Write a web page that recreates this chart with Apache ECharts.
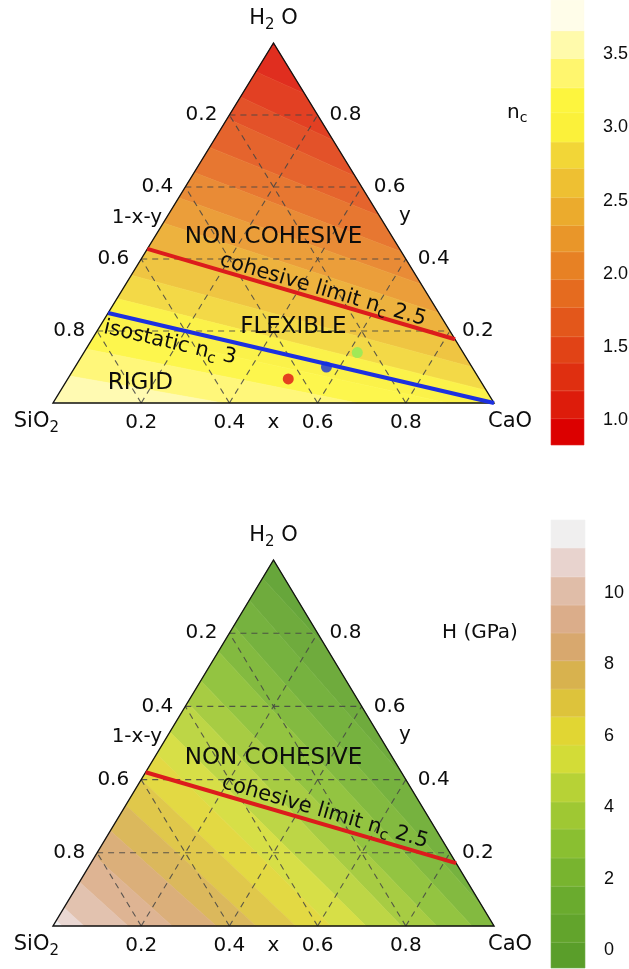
<!DOCTYPE html>
<html>
<head>
<meta charset="utf-8">
<script src="https://cdn.jsdelivr.net/npm/echarts@6/dist/echarts.min.js"></script>
<style>html,body{margin:0;padding:0;background:#fff}#c{width:629px;height:969px}</style>
</head>
<body>
<div id="c"></div>
<script>
// ---------- DATA ----------
// ternary coordinates: x = CaO fraction, y = H2O fraction, 1-x-y = SiO2 fraction
const tickValues = [0.2, 0.4, 0.6, 0.8];
const bottomTickValues = [0.2, 0.4, 0.5, 0.6, 0.8];
const bottomTickLabels = ['0.2', '0.4', 'x', '0.6', '0.8'];
const leftTickLabels = ['0.8', '0.6', '0.4', '0.2'];   // 1-x-y along SiO2-H2O edge at y = 0.2..0.8
const rightTickLabels = ['0.2', '0.4', '0.6', '0.8'];  // y along CaO-H2O edge
const leftAxisName = '1-x-y';
const rightAxisName = 'y';
const cornerNames = ['SiO{s|2}', 'CaO', 'H{s|2} O'];

// n_c field: band boundaries (colour key) and colours
const ncLevels = [0.83, 1.01, 1.20, 1.39, 1.57, 1.77, 1.96, 2.15, 2.33, 2.52, 2.72, 2.90, 3.10, 3.27, 3.47, 3.66, 3.87];
const ncColors = ['#dc0000', '#dd1c0b', '#df2f10', '#e14316', '#e3571b', '#e56b1f', '#e78124', '#e99629',
                  '#ebab2d', '#eec032', '#f2d637', '#fbf13a', '#fdf53e', '#fff66e', '#fffaab', '#fffde9'];
// where each inner level line (ncLevels[1..15]) meets the triangle edges, [x, y]
const ncContourStart = [[0, 0.99], [0, 0.92], [0, 0.85], [0, 0.79], [0, 0.71], [0, 0.64], [0, 0.57], [0, 0.50],
                        [0, 0.43], [0, 0.355], [0, 0.29], [0, 0.21], [0, 0.15], [0, 0.075], [0, 0.005]];
const ncContourEnd = [[0.01, 0.99], [0.14, 0.86], [0.27, 0.73], [0.37, 0.63], [0.48, 0.52], [0.58, 0.42],
                      [0.67, 0.33], [0.75, 0.25], [0.825, 0.175], [0.90, 0.10], [0.965, 0.035], [0.895, 0],
                      [0.69, 0], [0.385, 0], [0.015, 0]];
const ncTicks = [1.0, 1.5, 2.0, 2.5, 3.0, 3.5];

// hardness H (GPa) field
const hLevels = [-0.50, 0.22, 1.01, 1.79, 2.58, 3.39, 4.15, 4.96, 5.74, 6.53, 7.31, 8.10, 8.88, 9.66, 10.45, 11.26, 12.04];
const hColors = ['#5a9e2a', '#62a42c', '#6aab2e', '#78b42f', '#8abf31', '#9fc833', '#b7d236', '#d3dc37',
                 '#e1d633', '#ddc33b', '#d8b24e', '#d8a86e', '#dbad8a', '#e0bda8', '#e8d3ce', '#f0efef'];
const hContourStart = [[0, 0.95], [0, 0.89], [0, 0.82], [0, 0.75], [0, 0.67], [0, 0.61], [0, 0.53], [0, 0.47],
                       [0, 0.40], [0, 0.33], [0, 0.26], [0, 0.19], [0, 0.12], [0, 0.05], [0, 0.015]];
const hContourEnd = [[0.24, 0.76], [0.60, 0.40], [0.95, 0.05], [0.95, 0], [0.87, 0], [0.79, 0], [0.71, 0],
                     [0.63, 0], [0.55, 0], [0.46, 0], [0.37, 0], [0.27, 0], [0.17, 0], [0.07, 0], [0.02, 0]];
const hTicks = [0, 2, 4, 6, 8, 10];

// phase boundaries
const cohesiveLimitTop = [[0, 0.428], [0.823, 0.177]];
const isostaticLine = [[0, 0.25], [1, 0]];
const cohesiveLimitBottom = [[0, 0.42], [0.828, 0.172]];

// sample compositions
const sampleX = [0.50, 0.57, 0.62];
const sampleY = [0.067, 0.10, 0.14];
const sampleColors = ['#dd1414', '#1430dd', '#8cec5a'];

// ---------- RENDERING ----------
const FONT = 'DejaVu Sans';
const KEYFONT = 'Liberation Sans';
const INK = '#0d0d0d';
const tern = (x, y) => [x + y / 2, y];

function wash(hex, t) {
  const n = parseInt(hex.slice(1), 16);
  const r = (n >> 16) & 255, g = (n >> 8) & 255, b = n & 255;
  const m = c => Math.round(c + (255 - c) * t);
  return 'rgb(' + m(r) + ',' + m(g) + ',' + m(b) + ')';
}

function textEl(pt, text, size, align, dx, dy, rot, family) {
  const fam = family || FONT;
  return {
    type: 'text', x: pt[0] + dx, y: pt[1] + dy, rotation: rot || 0,
    style: {
      text: text, fontSize: size, fontFamily: fam, fill: INK, align: align, verticalAlign: 'middle',
      lineHeight: Math.round(size * 1.3),
      rich: { s: { fontSize: Math.round(size * 0.7), fontFamily: fam, fill: INK, verticalAlign: 'bottom' } }
    }
  };
}

function clip(poly, A, B, high) {
  const f = p => (B[0] - A[0]) * (p[1] - A[1]) - (B[1] - A[1]) * (p[0] - A[0]);
  const s = f([0, 0]) >= 0 ? 1 : -1;          // SiO2 corner lies on the high side
  const g = p => (high ? s : -s) * f(p);
  const out = [];
  for (let i = 0; i < poly.length; i++) {
    const P = poly[i], Q = poly[(i + 1) % poly.length];
    const gp = g(P), gq = g(Q);
    if (gp >= 0) out.push(P);
    if ((gp >= 0) !== (gq >= 0)) {
      const t = gp / (gp - gq);
      out.push([P[0] + t * (Q[0] - P[0]), P[1] + t * (Q[1] - P[1])]);
    }
  }
  return out;
}

function bandSeries(gi, colors, starts, ends) {
  return {
    type: 'custom', xAxisIndex: gi, yAxisIndex: gi, silent: true, z: 1,
    data: colors.map(() => [0, 0]),
    renderItem(params, api) {
      const k = params.dataIndex;
      let poly = [[0, 0], [1, 0], [0, 1]];
      if (k >= 1) poly = clip(poly, starts[k - 1], ends[k - 1], true);
      if (k <= starts.length - 1) poly = clip(poly, starts[k], ends[k], false);
      if (poly.length < 3) return null;
      const c = wash(colors[k], 0.08);
      return {
        type: 'polygon',
        shape: { points: poly.map(p => api.coord(tern(p[0], p[1]))) },
        style: { fill: c, stroke: c, lineWidth: 0.6 }
      };
    }
  };
}

function gridSeries(gi) {
  return {
    type: 'custom', xAxisIndex: gi, yAxisIndex: gi, silent: true, z: 2,
    data: tickValues.map(() => [0, 0]),
    renderItem(params, api) {
      const v = tickValues[params.dataIndex];
      const segs = [[[0, v], [1 - v, v]], [[v, 0], [v, 1 - v]], [[1 - v, 0], [0, 1 - v]]];
      return {
        type: 'group',
        children: segs.map(sg => {
          const a = api.coord(tern(sg[0][0], sg[0][1])), b = api.coord(tern(sg[1][0], sg[1][1]));
          return { type: 'line', shape: { x1: a[0], y1: a[1], x2: b[0], y2: b[1] },
                   style: { stroke: '#444444', lineWidth: 1.1, lineDash: [6, 5], opacity: 0.85 } };
        })
      };
    }
  };
}

function outlineSeries(gi) {
  return {
    type: 'custom', xAxisIndex: gi, yAxisIndex: gi, silent: true, z: 3, data: [[0, 0]],
    renderItem(params, api) {
      const pts = [[0, 0], [1, 0], [0, 1]].map(p => api.coord(tern(p[0], p[1])));
      return { type: 'polygon', shape: { points: pts }, style: { fill: 'none', stroke: '#111', lineWidth: 1.4 } };
    }
  };
}

function lineSeries(gi, pts, color, width) {
  return {
    type: 'line', xAxisIndex: gi, yAxisIndex: gi, silent: true, z: 5, symbol: 'none',
    data: pts.map(p => tern(p[0], p[1])), lineStyle: { color: color, width: width }
  };
}

function lineAngle(api, line) {
  const a = api.coord(tern(line[0][0], line[0][1])), b = api.coord(tern(line[1][0], line[1][1]));
  return -Math.atan2(b[1] - a[1], b[0] - a[0]);
}

function labelSeries(gi, notes, lineNotes) {
  return {
    type: 'custom', xAxisIndex: gi, yAxisIndex: gi, silent: true, z: 10, data: [[0, 0]],
    renderItem(params, api) {
      const P = (x, y) => api.coord(tern(x, y));
      const ch = [];
      bottomTickValues.forEach((v, i) => ch.push(textEl(P(v, 0), bottomTickLabels[i], 20, 'center', 0, 20)));
      tickValues.forEach((v, i) => {
        ch.push(textEl(P(0, v), leftTickLabels[i], 20, 'right', -12, 0));
        ch.push(textEl(P(1 - v, v), rightTickLabels[i], 20, 'left', 12, 0));
      });
      ch.push(textEl(P(0, 0.513), leftAxisName, 20, 'right', -4, -1));
      ch.push(textEl(P(0.487, 0.513), rightAxisName, 20, 'left', 18, -3));
      ch.push(textEl(P(0, 1), cornerNames[2], 21, 'center', 0, -24));
      ch.push(textEl(P(0, 0), cornerNames[0], 21, 'right', 6, 19));
      ch.push(textEl(P(1, 0), cornerNames[1], 21, 'left', -6, 19));
      notes.forEach(n => ch.push(textEl(P(n.at[0], n.at[1]), n.text, 23, 'center', 0, 0)));
      lineNotes.forEach(n => ch.push(textEl(P(n.at[0], n.at[1]), n.text, 21, 'center', 0, 0, lineAngle(api, n.line))));
      return { type: 'group', children: ch };
    }
  };
}

function colorbarSeries(gi, levels, colors) {
  return {
    type: 'custom', xAxisIndex: gi, yAxisIndex: gi, silent: true, z: 1,
    data: colors.map(() => [0, 0]),
    renderItem(params, api) {
      const k = params.dataIndex;
      const a = api.coord([0, levels[k + 1]]), b = api.coord([1, levels[k]]);
      return { type: 'rect', shape: { x: a[0], y: a[1], width: b[0] - a[0], height: b[1] - a[1] },
               style: { fill: colors[k], stroke: wash(colors[k], 0.15), lineWidth: 0.6 } };
    }
  };
}

function colorbarLabels(gi, ticks, digits, title, titleAt, titleDx) {
  return {
    type: 'custom', xAxisIndex: gi, yAxisIndex: gi, silent: true, z: 10, data: [[0, 0]],
    renderItem(params, api) {
      const ch = ticks.map(v => textEl(api.coord([1, v]), v.toFixed(digits), 18, 'left', 19, 0, 0, KEYFONT));
      ch.push(textEl(api.coord([0, titleAt]), title, 20, 'left', titleDx, 0));
      return { type: 'group', children: ch };
    }
  };
}

const chart = echarts.init(document.getElementById('c'));
const option = {
  backgroundColor: '#ffffff',
  animation: false,
  grid: [
    { left: 53, top: 43, width: 441, height: 360 },
    { left: 53, top: 560, width: 441, height: 366 },
    { left: 551, top: 0, width: 33, height: 445 },
    { left: 551, top: 520, width: 34, height: 448 }
  ],
  xAxis: [0, 1, 2, 3].map(i => ({ type: 'value', gridIndex: i, min: 0, max: 1, show: false })),
  yAxis: [
    { type: 'value', gridIndex: 0, min: 0, max: 1, show: false },
    { type: 'value', gridIndex: 1, min: 0, max: 1, show: false },
    { type: 'value', gridIndex: 2, min: ncLevels[0], max: ncLevels[ncLevels.length - 1], show: false },
    { type: 'value', gridIndex: 3, min: hLevels[0], max: hLevels[hLevels.length - 1], show: false }
  ],
  series: [
    bandSeries(0, ncColors, ncContourStart, ncContourEnd),
    gridSeries(0),
    outlineSeries(0),
    lineSeries(0, cohesiveLimitTop, '#dc1c1c', 4),
    lineSeries(0, isostaticLine, '#1c30e0', 4),
    {
      type: 'scatter', xAxisIndex: 0, yAxisIndex: 0, silent: true, z: 6, symbolSize: 11,
      data: sampleX.map((x, i) => ({ value: tern(x, sampleY[i]), itemStyle: { color: sampleColors[i] } }))
    },
    labelSeries(0,
      [{ text: 'NON COHESIVE', at: [0.27, 0.46] }, { text: 'FLEXIBLE', at: [0.44, 0.21] }, { text: 'RIGID', at: [0.17, 0.056] }],
      [{ text: 'cohesive limit n{s|c} 2.5', at: [0.455, 0.314], line: cohesiveLimitTop },
       { text: 'isostatic n{s|c} 3', at: [0.182, 0.167], line: isostaticLine }]),

    bandSeries(1, hColors, hContourStart, hContourEnd),
    gridSeries(1),
    outlineSeries(1),
    lineSeries(1, cohesiveLimitBottom, '#dc1c1c', 4),
    labelSeries(1,
      [{ text: 'NON COHESIVE', at: [0.27, 0.46] }],
      [{ text: 'cohesive limit n{s|c} 2.5', at: [0.461, 0.311], line: cohesiveLimitBottom }]),

    colorbarSeries(2, ncLevels, ncColors),
    colorbarLabels(2, ncTicks, 1, 'n{s|c}', 3.10, -44),
    colorbarSeries(3, hLevels, hColors),
    colorbarLabels(3, hTicks, 0, 'H (GPa)', 8.88, -109)
  ]
};
chart.setOption(option);
</script>
</body>
</html>
